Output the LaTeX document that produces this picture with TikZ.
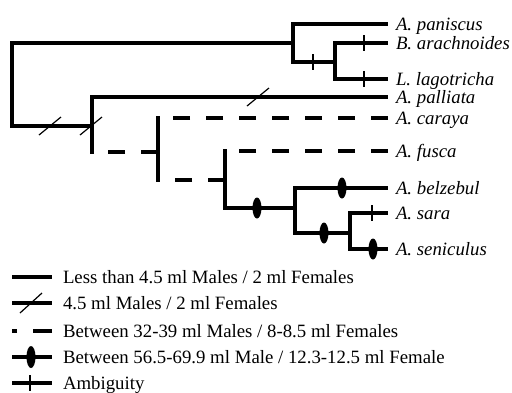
\documentclass[tikz,border=0pt]{standalone}
\usepackage{fontspec}
\setmainfont{Liberation Serif}
\begin{document}
\begin{tikzpicture}[x=1pt,y=-1pt,
  br/.style={line width=3.2pt},
  vt/.style={line width=3.4pt, line cap=rect},
  dsh/.style={line width=3.2pt, dash pattern=on 17pt off 16pt},
  lab/.style={anchor=west, inner sep=0pt, outer xsep=8pt, text height=12.4pt, text depth=0pt, font=\fontsize{18.8}{20}\selectfont\itshape},
  leg/.style={anchor=west, inner sep=0pt, outer xsep=11pt, text height=12.4pt, text depth=0pt, font=\fontsize{18.8}{20}\selectfont},
  slash/.style={line width=1.2pt},
  tickmark/.style={line width=1.5pt},
  oval/.style={fill=black}]
\useasboundingbox (0,0) rectangle (512,392);
% internal coordinates
\coordinate (root-t) at (12,43);
\coordinate (root-b) at (12,126);
\coordinate (P-t) at (293,24);
\coordinate (P-m) at (293,43);
\coordinate (P-b) at (293,62);
\coordinate (Q-t) at (335,43);
\coordinate (Q-m) at (335,62);
\coordinate (Q-b) at (335,79);
\coordinate (R-t) at (92,97);
\coordinate (R-m) at (92,126);
\coordinate (R-b) at (92,152);
\coordinate (S-t) at (158,118);
\coordinate (S-m) at (158,152);
\coordinate (S-b) at (158,180);
\coordinate (T-t) at (225,151);
\coordinate (T-m) at (225,180);
\coordinate (T-b) at (225,208);
\coordinate (U-t) at (295,188);
\coordinate (U-m) at (295,208);
\coordinate (U-b) at (295,233);
\coordinate (V-t) at (350,213);
\coordinate (V-m) at (350,233);
\coordinate (V-b) at (350,249);
% labels
\node[lab] (paniscus) at (388,24) {A. paniscus};
\node[lab] (arachnoides) at (388,43) {B. arachnoides};
\node[lab] (lagotricha) at (388,79) {L. lagotricha};
\node[lab] (palliata) at (388,97) {A. palliata};
\node[lab] (caraya) at (388,118) {A. caraya};
\node[lab] (fusca) at (388,151) {A. fusca};
\node[lab] (belzebul) at (388,188) {A. belzebul};
\node[lab] (sara) at (388,213) {A. sara};
\node[lab] (seniculus) at (388,249) {A. seniculus};
% verticals
\draw[vt] (root-t) -- (root-b);
\draw[vt] (P-t) -- (P-b);
\draw[vt] (Q-t) -- (Q-b);
\draw[vt] (R-t) -- (R-b);
\draw[vt] (S-t) -- (S-b);
\draw[vt] (T-t) -- (T-b);
\draw[vt] (U-t) -- (U-b);
\draw[vt] (V-t) -- (V-b);
% horizontals
\draw[br] (root-t) -- (P-m);
\draw[br] (root-b) -- (R-m);
\draw[br] (P-t) -- (paniscus.west);
\draw[br] (P-b) -- (Q-m);
\draw[br] (Q-t) -- (arachnoides.west);
\draw[br] (Q-b) -- (lagotricha.west);
\draw[br] (R-t) -- (palliata.west);
\draw[dsh] (S-m) -- (R-b);
\draw[dsh] (caraya.west) -- (S-t);
\draw[dsh] (T-m) -- (S-b);
\draw[dsh] (fusca.west) -- (T-t);
\draw[br] (T-b) -- (U-m);
\draw[br] (U-t) -- (belzebul.west);
\draw[br] (U-b) -- (V-m);
\draw[br] (V-t) -- (sara.west);
\draw[br] (V-b) -- (seniculus.west);
% marks
\draw[slash] (50,126) ++(-11,9) -- ++(22,-18);
\draw[slash] (91,126) ++(-11,9) -- ++(22,-18);
\draw[slash] (258,97) ++(-11,9) -- ++(22,-18);
\draw[tickmark] (313,62) ++(0,-8) -- ++(0,16);
\draw[tickmark] (364,43) ++(0,-8) -- ++(0,16);
\draw[tickmark] (364,79) ++(0,-8) -- ++(0,16);
\draw[tickmark] (372,213) ++(0,-8) -- ++(0,16);
\fill[oval] (257,208) ellipse [x radius=4.5pt, y radius=10.5pt];
\fill[oval] (342,188) ellipse [x radius=4.5pt, y radius=10.5pt];
\fill[oval] (324,233) ellipse [x radius=4.5pt, y radius=10.5pt];
\fill[oval] (373,249) ellipse [x radius=4.5pt, y radius=10.5pt];
% legend
\coordinate (l1) at (12,277);
\coordinate (l2) at (12,303);
\coordinate (l3) at (12,331);
\coordinate (l4) at (12,357);
\coordinate (l5) at (12,383);
\node[leg] (t1) at (52,277) {Less than 4.5 ml Males / 2 ml Females};
\node[leg] (t2) at (52,303) {4.5 ml Males / 2 ml Females};
\node[leg] (t3) at (52,331) {Between 32-39 ml Males / 8-8.5 ml Females};
\node[leg] (t4) at (52,357) {Between 56.5-69.9 ml Male / 12.3-12.5 ml Female};
\node[leg] (t5) at (52,383) {Ambiguity};
\draw[br] (l1) -- (t1.west);
\draw[br] (l2) -- (t2.west);
\draw[slash] (31,303) ++(-11,10) -- ++(22,-20);
\draw[br, dash pattern=on 19pt off 16pt] (t3.west) -- (l3);
\draw[br] (l4) -- (t4.west);
\fill[oval] (31,357) ellipse [x radius=4.5pt, y radius=11pt];
\draw[br] (l5) -- (t5.west);
\draw[tickmark] (30,383) ++(0,-8) -- ++(0,16);
\end{tikzpicture}
\end{document}
